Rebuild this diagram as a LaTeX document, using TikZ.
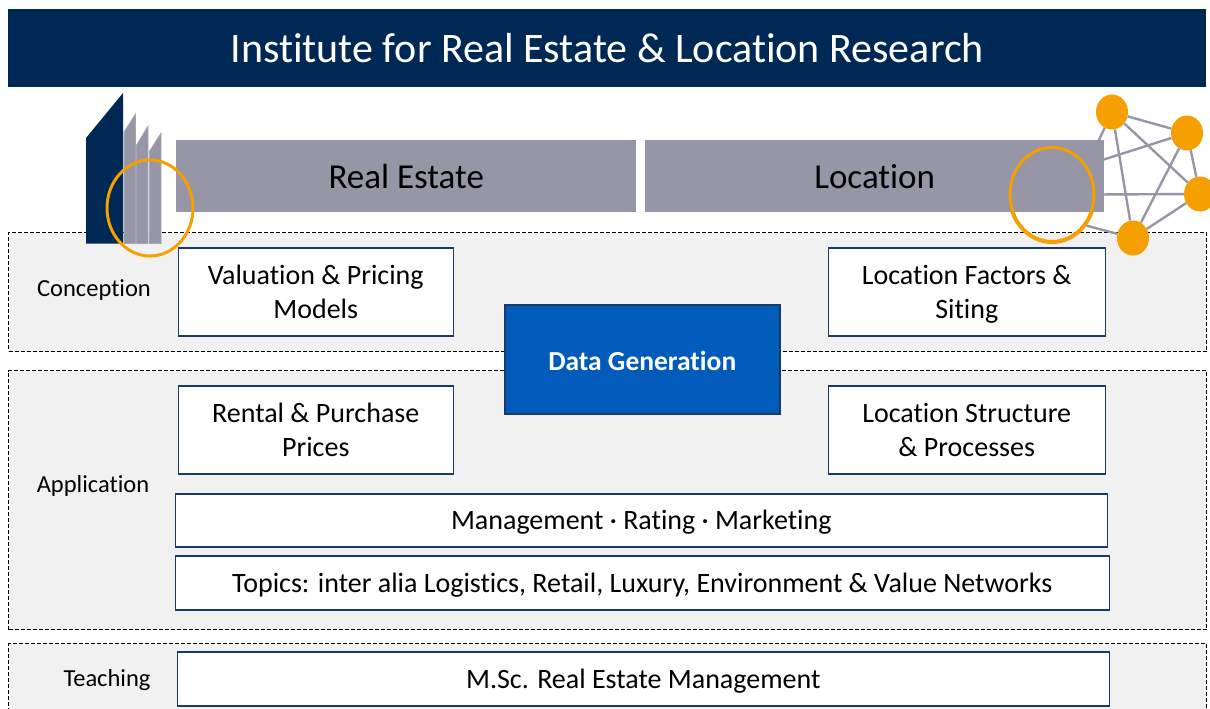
\documentclass[tikz,border=0pt]{standalone}
\usepackage{fontspec}
\setmainfont{Carlito}[Ligatures=NoCommon]
\usetikzlibrary{
  positioning,
  shapes.geometric,
}
\definecolor{navy}{HTML}{002855}
\definecolor{slate}{HTML}{9696A6}
\definecolor{amber}{HTML}{F5A000}
\definecolor{panelgray}{HTML}{F1F1F1}
\definecolor{boxline}{HTML}{173A68}
\definecolor{datablue}{HTML}{005BBB}
\newcommand{\topicstrut}{\rule[-3pt]{0pt}{27pt}}
\tikzset{
  panel/.style={draw=black, fill=panelgray, dash pattern=on 4pt off 2pt, line width=1pt, anchor=north west, inner sep=0pt},
  band/.style={fill=slate, anchor=north west, inner sep=0pt, minimum height=72pt, font=\fontsize{35}{40}\selectfont},
  topic/.style={draw=boxline, fill=white, line width=1.5pt, align=center, anchor=north west, inner sep=0pt, font=\fontsize{28}{34}\selectfont},
  topicwide/.style={topic, execute at begin node=\topicstrut, execute at end node=\topicstrut},
  topictall/.style={topic, minimum height=88pt, execute at begin node=\rule{0pt}{29pt}},
  side/.style={font=\fontsize{24.5}{30}\selectfont},
  dot/.style={ellipse, fill=amber, inner sep=0pt, minimum width=32pt, minimum height=35pt},
  ring/.style={ellipse, draw=amber, line width=3pt, inner sep=0pt, minimum width=86pt, minimum height=96pt},
  link/.style={draw=slate, line width=2.4pt},
  strip/.style={fill=slate, draw=slate!85, line width=0.6pt},
}

\begin{document}
\begin{tikzpicture}[x=1pt, y=-1pt]
      \clip (0, 0) rectangle (1210, 709);

      \node [fill=navy, text=white, anchor=north west, inner sep=0pt, minimum width=1198pt, minimum height=78pt, font=\fontsize{42}{46}\selectfont]
        (title) at (8, 9) {Institute for Real Estate \& Location Research};

      % rows
      \node [panel, minimum width=1198pt, minimum height=119pt] (conception) at (8, 232) {};
      \node [panel, minimum width=1198pt, minimum height=259pt] (application) at (8, 370) {};
      \node [panel, minimum width=1198pt, minimum height=90pt] (teaching) at (8, 643) {};

      % building
      \fill [navy] (86, 243.5) -- (86, 138) -- (123, 93) -- (123, 243.5) -- cycle;
      \draw [strip] (124, 243.5) -- (124, 132) -- (135.5, 114) -- (135.5, 243.5) -- cycle;
      \draw [strip] (136.5, 243.5) -- (136.5, 145) -- (148, 126) -- (148, 243.5) -- cycle;
      \draw [strip] (149.5, 243.5) -- (149.5, 151) -- (161, 133) -- (161, 243.5) -- cycle;

      % network
      \node [ring] (ringRight) at (1052, 194.5) {};
      \node [dot] (netTop) at (1112, 112) {};
      \node [dot] (netUpper) at (1187, 133) {};
      \node [dot] (netRight) at (1200, 194) {};
      \node [dot] (netLow) at (1133, 238) {};
      \foreach \a/\b in {netTop/netUpper, netTop/netRight, netTop/netLow, netUpper/netRight, netUpper/netLow, netRight/netLow}
      {
        \draw [link] (\a) -- (\b);
      }
      \draw [link] (netTop) -- (ringRight.40);
      \draw [link] (netUpper) -- (ringRight.40);
      \draw [link] (netRight) -- (ringRight.east);
      \draw [link] (netLow) -- (ringRight.-42);

      \node [band, minimum width=460pt] (realEstate) at (176, 140) {Real Estate};
      \node [band, minimum width=459pt] (location) at (645, 140) {Location};

      \node [ring] (ringLeft) at (150, 208) {};
      \draw [amber, line width=3pt] (ringRight.center) ellipse [x radius=42pt, y radius=47pt];

      \node [side] (conceptionLabel) at (94, 290.5) {Conception};
      \node [side] (applicationLabel) at (93, 485.5) {Application};
      \node [side] (teachingLabel) at (107, 680.5) {Teaching};

      \node [topictall, minimum width=275pt] (valuation) at (177.5, 247) {Valuation \& Pricing\\Models};
      \node [topictall, minimum width=277pt] (factors) at (827.5, 247) {Location Factors \&\\\smash{Siting}};
      \node [topictall, minimum width=275pt] (rental) at (177.5, 385) {Rental \& Purchase\\Prices};
      \node [topictall, minimum width=277pt] (structure) at (827.5, 385) {Location Structure\\\& Processes};
      \node [topicwide, minimum width=932pt, minimum height=53pt] (management) at (174.5, 493) {Management · Rating · Marketing};
      \node [topicwide, minimum width=934pt, minimum height=54pt] (topics) at (174.5, 555) {Topics: inter alia Logistics, Retail, Luxury, Environment \& Value Networks};
      \node [topicwide, minimum width=932pt, minimum height=54pt] (msc) at (176.5, 651) {M.Sc. Real Estate Management};

      \node [draw=boxline, fill=datablue, text=white, line width=1.5pt, anchor=north west, inner sep=0pt, minimum width=275pt, minimum height=109pt, text height=22pt, text depth=0pt, font=\bfseries\fontsize{27.5}{30}\selectfont]
        (data) at (504, 304) {Data Generation};
    \end{tikzpicture}
\end{document}
